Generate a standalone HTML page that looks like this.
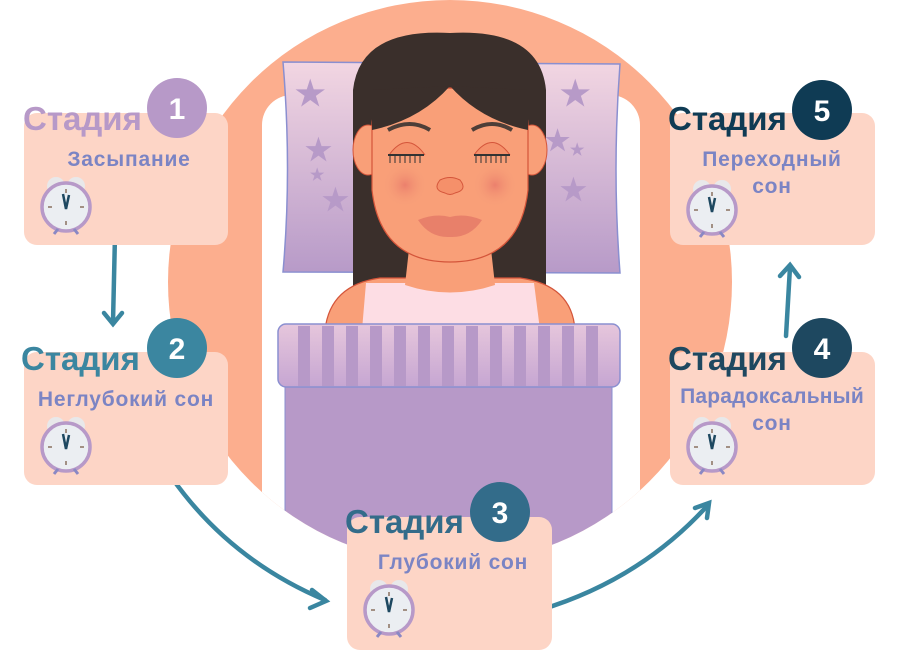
<!DOCTYPE html>
<html><head><meta charset="utf-8"><style>
html,body{margin:0;padding:0;background:#fff;width:900px;height:650px;overflow:hidden}
svg{display:block}
text{font-family:"Liberation Sans",sans-serif;font-weight:bold}
</style></head><body>
<svg width="900" height="650" viewBox="0 0 900 650" xmlns="http://www.w3.org/2000/svg">
<defs>
<clipPath id="cc"><circle cx="450" cy="282" r="282"/></clipPath>
<linearGradient id="pg" x1="0" y1="0" x2="0" y2="1"><stop offset="0" stop-color="#f2d6e2"/><stop offset="1" stop-color="#b79ac8"/></linearGradient>
<linearGradient id="bg" x1="0" y1="0" x2="0" y2="1"><stop offset="0" stop-color="#e6c6dc"/><stop offset="1" stop-color="#c6a6d2"/></linearGradient>
<radialGradient id="ch"><stop offset="0" stop-color="#e8786a" stop-opacity=".8"/><stop offset="1" stop-color="#f59f78" stop-opacity="0"/></radialGradient>
<g id="clk">
<circle cx="-10" cy="-21" r="9" fill="#e8e8ea"/><circle cx="10" cy="-21" r="9" fill="#e8e8ea"/>
<circle cx="0" cy="0" r="24" fill="#ebeef2" stroke="#b799c8" stroke-width="3.5"/>
<line x1="-8" y1="22" x2="-12" y2="27" stroke="#8a88c4" stroke-width="3"/><line x1="8" y1="22" x2="12" y2="27" stroke="#8a88c4" stroke-width="3"/>
<path d="M0,-18v4M0,18v-4M-18,0h4M18,0h-4" stroke="#8a7060" stroke-width="1.5"/>
<path d="M-3,-13 L0,2 L3,-12" stroke="#1e4860" stroke-width="2.5" fill="none"/>
</g>
</defs>
<g clip-path="url(#cc)">
<rect x="0" y="0" width="900" height="650" fill="#fcae8e"/>
<rect x="262" y="95" width="378" height="600" rx="30" fill="#fff"/>
<path d="M283,62 L620,64 Q612,170 620,273 L283,272 Q292,170 283,62Z" fill="url(#pg)" stroke="#8a8fd0" stroke-width="1.5"/>
<g fill="#b79ac8">
<text x="295" y="105" font-size="34">★</text><text x="305" y="160" font-size="30">★</text><text x="310" y="180" font-size="16">★</text>
<text x="322" y="210" font-size="30">★</text><text x="560" y="105" font-size="34">★</text><text x="545" y="150" font-size="28">★</text>
<text x="570" y="155" font-size="16">★</text><text x="560" y="200" font-size="30">★</text>
</g>
<path d="M353,292 L353,90 Q360,28 450,33 Q540,28 546,90 L546,292Z" fill="#3a2f2b"/>
<path d="M325,330 Q330,285 380,278 L520,278 Q572,285 575,330Z" fill="#f99f78" stroke="#d4553a" stroke-width="1.2"/>
<path d="M366,283 L534,283 L540,330 L362,330Z" fill="#fddde4"/>
<path d="M410,240 L490,240 L495,285 Q450,300 405,285Z" fill="#f99f78"/>
<ellipse cx="368" cy="150" rx="15" ry="25" fill="#f99f78" stroke="#d4553a"/>
<ellipse cx="532" cy="150" rx="15" ry="25" fill="#f99f78" stroke="#d4553a"/>
<path d="M372,125 Q372,90 450,88 Q528,90 528,125 L528,190 Q520,262 450,262 Q380,262 372,190Z" fill="#f99f78" stroke="#d4553a" stroke-width="1.2"/>
<path d="M450,86 Q420,120 372,130 L372,90Z M450,86 Q480,120 528,130 L528,90Z" fill="#3a2f2b"/>
<path d="M388,130 Q410,118 430,130" stroke="#4d3e38" stroke-width="4" fill="none"/>
<path d="M472,130 Q492,118 512,130" stroke="#4d3e38" stroke-width="4" fill="none"/>
<path d="M389,155 Q407,130 425,155" stroke="#d4553a" fill="#f5906a"/>
<path d="M474,155 Q492,130 510,155" stroke="#d4553a" fill="#f5906a"/>
<path d="M388,155h36M474,155h36" stroke="#333" stroke-width="2"/>
<path d="M390,155v8M395,155v8M400,155v8M405,155v8M410,155v8M415,155v8M420,155v8M476,155v8M481,155v8M486,155v8M491,155v8M496,155v8M501,155v8M506,155v8" stroke="#333" stroke-width="1"/>
<circle cx="405" cy="185" r="22" fill="url(#ch)"/><circle cx="495" cy="185" r="22" fill="url(#ch)"/>
<path d="M440,180 Q450,175 460,180 Q468,190 455,193 Q450,196 445,193 Q432,190 440,180Z" fill="#f5906a" stroke="#d4553a"/>
<path d="M418,220 Q435,213 450,217 Q465,213 482,220 Q470,238 450,237 Q430,238 418,220Z" fill="#e8806a"/>
<rect x="285" y="385" width="327" height="300" fill="#b799c8" stroke="#8a8fd0"/>
<rect x="278" y="324" width="342" height="63" rx="8" fill="url(#bg)" stroke="#8a8fd0" stroke-width="1.5"/>
<g fill="#b799c8">
<rect x="298" y="326" width="12" height="60"/><rect x="322" y="326" width="12" height="60"/><rect x="346" y="326" width="12" height="60"/><rect x="370" y="326" width="12" height="60"/><rect x="394" y="326" width="12" height="60"/><rect x="418" y="326" width="12" height="60"/><rect x="442" y="326" width="12" height="60"/><rect x="466" y="326" width="12" height="60"/><rect x="490" y="326" width="12" height="60"/><rect x="514" y="326" width="12" height="60"/><rect x="538" y="326" width="12" height="60"/><rect x="562" y="326" width="12" height="60"/><rect x="586" y="326" width="12" height="60"/>
</g>
</g>
<g fill="none" stroke="#3a86a0" stroke-width="4.5" stroke-linecap="round">
<path d="M115,235 L113,322"/><path d="M104,313 L113,324 L122,313"/>
<path d="M172,478 Q230,560 325,600"/><path d="M312,590 L326,601 L310,608"/>
<path d="M540,610 Q640,580 708,505"/><path d="M695,508 L709,503 L707,518"/>
<path d="M786,336 L790,267"/><path d="M780,276 L790,265 L799,277"/>
</g>
<g fill="#fdd5c6">
<rect x="24" y="113" width="204" height="132" rx="13"/>
<rect x="24" y="352" width="204" height="133" rx="13"/>
<rect x="347" y="517" width="205" height="133" rx="13"/>
<rect x="670" y="352" width="205" height="133" rx="13"/>
<rect x="670" y="113" width="205" height="132" rx="13"/>
</g>
<circle cx="177" cy="108" r="30" fill="#b799c8"/>
<circle cx="177" cy="348" r="30" fill="#3b86a0"/>
<circle cx="500" cy="512" r="30" fill="#336c8a"/>
<circle cx="822" cy="348" r="30" fill="#1e4860"/>
<circle cx="822" cy="110" r="30" fill="#0f3b54"/>
<g fill="#fff" font-size="30" text-anchor="middle">
<text x="177" y="119">1</text><text x="177" y="359">2</text><text x="500" y="523">3</text><text x="822" y="359">4</text><text x="822" y="121">5</text>
</g>
<g font-size="33">
<text x="23" y="130" fill="#b799c8">Стадия</text>
<text x="21" y="370" fill="#3b86a0">Стадия</text>
<text x="345" y="533" fill="#336c8a">Стадия</text>
<text x="668" y="370" fill="#1e4860">Стадия</text>
<text x="668" y="130" fill="#0f3b54">Стадия</text>
</g>
<g font-size="21" fill="#7b84c4" text-anchor="middle" letter-spacing="0.8">
<text x="129" y="166">Засыпание</text>
<text x="126" y="406">Неглубокий сон</text>
<text x="453" y="569">Глубокий сон</text>
<text x="772" y="403" letter-spacing="0.2">Парадоксальный</text><text x="772" y="430">сон</text>
<text x="772" y="166">Переходный</text><text x="772" y="193">сон</text>
</g>
<use href="#clk" x="66" y="207"/>
<use href="#clk" x="66" y="447"/>
<use href="#clk" x="389" y="610"/>
<use href="#clk" x="712" y="447"/>
<use href="#clk" x="712" y="210"/>
</svg>
</body></html>
